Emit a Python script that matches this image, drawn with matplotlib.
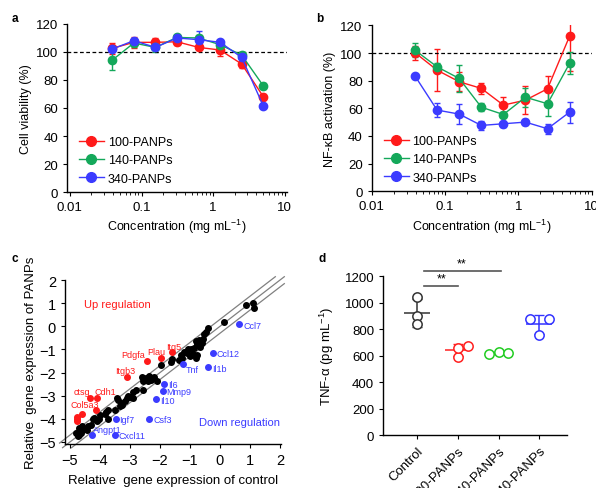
import numpy as np
import matplotlib
matplotlib.use('Agg')
import matplotlib.pyplot as plt
from matplotlib.lines import Line2D

plt.rcParams['font.family'] = ['Liberation Sans', 'DejaVu Sans']
plt.rcParams['font.size'] = 9
plt.rcParams['axes.linewidth'] = 1.0
plt.rcParams['mathtext.default'] = 'regular'

# ---- data ----
conc = [0.039, 0.078, 0.156, 0.3125, 0.625, 1.25, 2.5, 5.0]
series = ['100-PANPs', '140-PANPs', '340-PANPs']
colors = ['#FF1A1A', '#14A85A', '#3B3BFF']

via_mean = [[102.6, 106.9, 106.9, 107.3, 103.3, 101.4, 91.4, 68.2],
            [94.2, 106.4, 103.3, 110.4, 110.0, 105.2, 97.8, 75.9],
            [102.1, 108.1, 103.3, 110.0, 108.8, 106.9, 96.1, 61.5]]
via_err = [[4, 4, 3, 2, 2, 4, 3, 2],
           [7, 3, 3, 2, 2, 2, 2, 2],
           [2, 2, 2, 2, 6.5, 2, 2, 1]]

nfkb_mean = [[100.2, 87.6, 79.2, 74.4, 62.3, 65.9, 74.1, 112.2],
             [102.0, 90.0, 81.6, 60.8, 55.5, 68.0, 63.3, 92.5],
             [83.3, 58.7, 55.8, 47.6, 48.8, 50.0, 45.2, 57.2]]
nfkb_err = [[5, 15, 7, 4, 6, 10, 9, 25],
            [5, 3, 10, 3, 2, 7, 9, 8],
            [1, 5, 7, 3, 2, 2, 3.5, 7.5]]

# panel c: log expression control vs PANPs
gene_x = [1.12, 1.13, 0.88, 0.15, -0.38, -0.45, -0.52, -0.55, -0.70, -0.80, -0.65, -0.75,
          -0.85, -0.95, -1.05, -0.90, -1.00, -0.80, -0.75, -1.10, -1.30, -1.35, -1.60, -1.62,
          -1.95, -2.20, -2.30, -2.35, -2.45, -2.55, -2.60, -2.10, -2.55, -2.80, -2.90, -3.05,
          -3.10, -3.15, -3.30, -3.25, -3.40, -3.45, -3.35, -3.75, -3.80, -3.85, -3.75, -4.00,
          -4.05, -4.20, -4.10, -4.30, -4.45, -4.60, -4.60, -4.65, -4.70, -4.75, -4.80, -4.70,
          -4.50, -2.90, -3.50, -4.25, -1.20, -1.25, -0.60, -2.40, -3.00, -4.40]
gene_y = [1.00, 0.80, 0.93, 0.20, -0.08, -0.25, -0.35, -0.55, -0.60, -0.65, -0.90, -0.78,
          -0.95, -1.00, -1.00, -1.20, -1.30, -1.35, -1.25, -1.15, -1.25, -1.45, -1.40, -1.55,
          -1.65, -2.20, -2.30, -2.15, -2.25, -2.35, -2.20, -2.35, -2.75, -2.75, -3.10, -3.00,
          -3.10, -3.25, -3.30, -3.40, -3.20, -3.10, -3.45, -3.60, -3.70, -3.80, -4.00, -3.85,
          -4.00, -3.95, -4.10, -4.25, -4.50, -4.50, -4.30, -4.60, -4.70, -4.75, -4.60, -4.40,
          -4.45, -2.85, -3.60, -4.00, -1.10, -1.35, -0.70, -2.35, -3.05, -4.30]

up_genes = ['Itg5', 'Plau', 'Pdgfa', 'Itgb3', 'ctsg', 'Cdh1', 'Col5a3']
up_x = [-1.61, -1.98, -2.44, -3.09, -4.33, -4.09, -4.13]
up_y = [-1.12, -1.36, -1.48, -2.20, -3.09, -3.09, -3.63]
up_extra_x = [-4.59, -4.78, -4.78, -4.78]
up_extra_y = [-3.78, -3.92, -4.02, -4.11]

down_genes = ['Ccl7', 'Ccl12', 'Il1b', 'Tnf', 'Il6', 'Mmp9', 'Il10', 'Csf3', 'Igf7', 'Angpt1', 'Cxcl11']
down_x = [0.64, -0.24, -0.39, -1.24, -1.86, -1.91, -2.13, -2.36, -3.48, -4.26, -3.50]
down_y = [0.10, -1.15, -1.76, -1.62, -2.51, -2.80, -3.14, -4.03, -4.03, -4.71, -4.71]

# panel d: TNF-alpha
groups = ['Control', '100-PANPs', '140-PANPs', '340-PANPs']
group_colors = ['#333333', '#FF2020', '#22CC22', '#3333FF']
tnf_vals = [[1040, 899, 836], [590, 660, 672], [610, 628, 622], [879, 879, 756]]
tnf_offsets = [[0, 0, 0], [0, 0, 0.24], [-0.24, 0, 0.24], [-0.24, 0.24, 0]]

fig = plt.figure(figsize=(5.96, 4.89), dpi=100)


def style_log_axis(ax, ylabel):
    ax.set_xscale('log')
    ax.set_ylim(0, 120)
    ax.set_yticks(range(0, 121, 20))
    ax.set_xticks([0.01, 0.1, 1, 10])
    ax.set_xticklabels(['0.01', '0.1', '1', '10'])
    ax.spines['top'].set_visible(False)
    ax.spines['right'].set_visible(False)
    ax.tick_params(direction='out', length=3, labelsize=9.5)
    ax.tick_params(which='minor', length=2)
    ax.axhline(100, color='black', ls='--', lw=0.9, dashes=(3, 2))
    ax.set_xlabel('Concentration (mg mL$^{-1}$)', fontsize=9, labelpad=3)
    ax.set_ylabel(ylabel, fontsize=9, labelpad=3)
    handles = [Line2D([], [], color=c, marker='o', ms=7, lw=1) for c in colors]
    ax.legend(handles, series, loc='lower left', frameon=False, fontsize=9,
              handlelength=2.0, labelspacing=0.5, borderaxespad=0.2,
              handletextpad=0.3, bbox_to_anchor=(0.02, 0.0))


# a
ax = fig.add_axes([0.1124, 0.6053, 0.369, 0.3436])
for i in range(3):
    ax.errorbar(conc, via_mean[i], yerr=via_err[i], color=colors[i], marker='o', ms=6,
                lw=1, capsize=2, elinewidth=1)
ax.set_xlim(0.0091, 10.7)
style_log_axis(ax, 'Cell viability (%)')
fig.text(0.02, 0.955, 'a', fontsize=8.5, fontweight='bold')

# b
ax = fig.add_axes([0.6237, 0.607, 0.369, 0.339])
for i in range(3):
    ax.errorbar(conc, nfkb_mean[i], yerr=nfkb_err[i], color=colors[i], marker='o', ms=6,
                lw=1, capsize=2, elinewidth=1)
ax.set_xlim(0.01, 10)
style_log_axis(ax, 'NF-\u03baB activation (%)')
fig.text(0.53, 0.955, 'b', fontsize=8.5, fontweight='bold')

# c
ax = fig.add_axes([0.109, 0.090, 0.362, 0.335])
for d in [0.3, 0.0, -0.3]:
    x0 = max(-5.35, -5.25 - d)
    x1 = min(2.15, 2.15 - d)
    ax.plot([x0, x1], [x0 + d, x1 + d], color='#808080', lw=0.9, clip_on=False, zorder=1)
ax.scatter(gene_x, gene_y, s=16, color='black', zorder=3, clip_on=False)
ax.scatter(up_x + up_extra_x, up_y + up_extra_y, s=16, color='#FF1A1A', zorder=3, clip_on=False)
ax.scatter(down_x, down_y, s=16, color='#3B3BFF', zorder=3, clip_on=False)
up_pos = [(-1.80, -0.87), (-2.41, -1.07), (-3.28, -1.22), (-3.50, -1.91),
          (-4.87, -2.80), (-4.17, -2.80), (-4.98, -3.39)]
for g, (tx, ty) in zip(up_genes, up_pos):
    ax.text(tx, ty, g, color='#FF1A1A', fontsize=6.5, va='center', ha='left')
down_pos = [(0.78, 0.04), (-0.10, -1.18), (-0.25, -1.82), (-1.14, -1.88), (-1.72, -2.53),
            (-1.79, -2.82), (-1.99, -3.19), (-2.22, -4.05), (-3.36, -4.05), (-4.22, -4.48),
            (-3.37, -4.74)]
for g, (tx, ty) in zip(down_genes, down_pos):
    ax.text(tx, ty, g, color='#3B3BFF', fontsize=6.5, va='center', ha='left')
ax.text(-4.52, 0.98, 'Up regulation', color='#FF1A1A', fontsize=8, va='center')
ax.text(-0.69, -4.13, 'Down regulation', color='#3B3BFF', fontsize=8, va='center')
ax.set_xlim(-5.17, 2.03)
ax.set_ylim(-5.09, 2.0)
ax.set_xticks(range(-5, 3))
ax.set_yticks(range(-5, 3))
ax.spines['top'].set_visible(False)
ax.spines['right'].set_visible(False)
ax.tick_params(direction='out', length=3, labelsize=10.5)
ax.set_xlabel('Relative  gene expression of control', fontsize=9.5, labelpad=5)
ax.set_ylabel('Relative  gene expression of PANPs', fontsize=9.5, labelpad=2)
fig.text(0.02, 0.465, 'c', fontsize=8.5, fontweight='bold')

# d
ax = fig.add_axes([0.643, 0.108, 0.309, 0.325])
for i in range(4):
    vals = np.array(tnf_vals[i])
    xs = i + np.array(tnf_offsets[i])
    m = vals.mean()
    sd = vals.std(ddof=1)
    ax.hlines(m, i - 0.32, i + 0.32, color=group_colors[i], lw=1.1, zorder=2)
    ax.errorbar(i, m, yerr=sd, color=group_colors[i], capsize=3.5, lw=1.1, zorder=2)
    ax.scatter(xs, vals, s=45, facecolor='white', edgecolor=group_colors[i], lw=1.1, zorder=3)
ax.plot([0.17, 1.0], [1125, 1125], color='#555555', lw=1.2, clip_on=False)
ax.plot([0.17, 2.05], [1243, 1243], color='#555555', lw=1.2, clip_on=False)
ax.text(0.6, 1135, '**', ha='center', va='bottom', fontsize=9)
ax.text(1.1, 1253, '**', ha='center', va='bottom', fontsize=9)
ax.set_xlim(-0.84, 3.69)
ax.set_ylim(0, 1200)
ax.set_yticks(range(0, 1201, 200))
ax.set_xticks(range(4))
ax.set_xticklabels(groups, rotation=45, ha='right', rotation_mode='anchor')
ax.spines['top'].set_visible(False)
ax.spines['right'].set_visible(False)
ax.tick_params(direction='out', length=3, labelsize=9.5)
ax.set_ylabel('TNF-\u03b1 (pg mL$^{-1}$)', fontsize=9.5, labelpad=6)
fig.text(0.535, 0.465, 'd', fontsize=8.5, fontweight='bold')

plt.savefig('out.png', dpi=100)
